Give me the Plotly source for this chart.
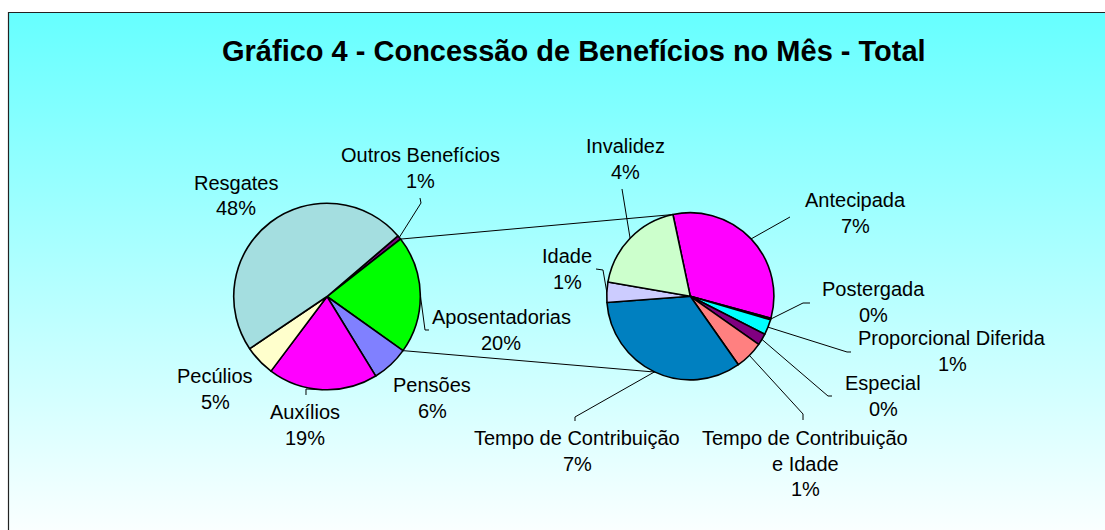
import base64
import math
import plotly.graph_objects as go

# ---------------- data ----------------
main_labels = ["Outros Benefícios", "Aposentadorias", "Pensões", "Auxílios", "Pecúlios", "Resgates"]
main_values = [0.7, 20.4, 6.4, 19.0, 5.3, 48.2]
main_colors = ["#800080", "#00FF00", "#8080FF", "#FF00FF", "#FFFFCC", "#A4DEE0"]

apos_labels = ["Antecipada", "Postergada", "Proporcional Diferida", "Especial",
               "Tempo de Contribuição e Idade", "Tempo de Contribuição", "Idade", "Invalidez"]
apos_values = [6.63, 0.06, 0.60, 0.46, 1.12, 6.83, 0.80, 3.85]
apos_colors = ["#FF00FF", "#FFFF00", "#00FFFF", "#800080", "#FF8080", "#0080C0", "#CCCCFF", "#CCFFCC"]

title_text = "Gráfico 4 - Concessão de Benefícios no Mês - Total"

# ---------------- layout geometry (pixels) ----------------
W, H = 1105, 530
C1, R1, ROT1 = (327.0, 296.5), 93.3, 49.5
C2, R2, ROT2 = (690.3, 296.3), 83.6, -12.0
BOTTOM_LINK_ANGLE = 205.0
FONT = "Liberation Sans, Arial, sans-serif"
LINE_H = 25.5
LABEL_SIZE = 20

def px(x, y):
    return x / W, 1 - y / H

def dom(c, r):
    return dict(x=[(c[0] - r) / W, (c[0] + r) / W],
                y=[1 - (c[1] + r) / H, 1 - (c[1] - r) / H])

def angles(values, rot):
    tot = sum(values)
    out, a = [], rot
    for v in values:
        b = a + 360 * v / tot
        out.append((a, b))
        a = b
    return out

def pt(c, r, ang):
    t = math.radians(ang)
    return c[0] + r * math.sin(t), c[1] - r * math.cos(t)

total_all = sum(main_values)
fig = go.Figure()
fig.add_trace(go.Pie(labels=main_labels, values=main_values, sort=False, direction="clockwise",
                     rotation=ROT1, textinfo="none", hoverinfo="label+percent", showlegend=False,
                     marker=dict(colors=main_colors, line=dict(color="black", width=1.6)),
                     domain=dom(C1, R1)))
fig.add_trace(go.Pie(labels=apos_labels, values=apos_values, sort=False, direction="clockwise",
                     rotation=ROT2, textinfo="none", hoverinfo="label", showlegend=False,
                     marker=dict(colors=apos_colors, line=dict(color="black", width=1.6)),
                     domain=dom(C2, R2)))

# label layout: (center x, first line y, leader tail points)
label_pos = {
    "Outros Benefícios": (420, 155, [(420, 198), (421, 203)]),
    "Aposentadorias": (501, 317, [(429, 330), (425, 330)]),
    "Pensões": (432, 385, []),
    "Auxílios": (305, 412, [(306, 395), (306, 389)]),
    "Pecúlios": (215, 376, []),
    "Resgates": (236, 183, []),
    "Antecipada": (855, 200, [(790, 217)]),
    "Postergada": (873, 289, [(810, 303), (803, 303)]),
    "Proporcional Diferida": (952, 338, [(851, 352), (847, 352)]),
    "Especial": (883, 383, [(832, 396), (828, 396)]),
    "Tempo de Contribuição e Idade": (805, 438, [(803, 420), (803, 414)]),
    "Tempo de Contribuição": (577, 438, [(575, 421), (575, 417)]),
    "Idade": (567, 256, [(596, 269), (603, 270)]),
    "Invalidez": (625, 146, [(622, 189)]),
}
display_lines = {"Tempo de Contribuição e Idade": ["Tempo de Contribuição", "e Idade"]}

annotations, shapes = [], []

def add_labels(labels, values, c, r, rot):
    for lab, v, (a0, a1) in zip(labels, values, angles(values, rot)):
        x, y, tail = label_pos[lab]
        lines = display_lines.get(lab, [lab]) + [f"{round(v / total_all * 100)}%"]
        for i, s in enumerate(lines):
            xp, yp = px(x, y + i * LINE_H)
            annotations.append(dict(x=xp, y=yp, xref="paper", yref="paper", text=s, showarrow=False,
                                    xanchor="center", yanchor="middle",
                                    font=dict(family=FONT, size=LABEL_SIZE, color="black")))
        if tail:
            anc = pt(c, r, (a0 + a1) / 2)
            pts = tail + [anc]
            path = "M " + " L ".join("%.5f,%.5f" % px(*p) for p in pts)
            shapes.append(dict(type="path", path=path, xref="paper", yref="paper",
                               line=dict(color="black", width=1)))

add_labels(main_labels, main_values, C1, R1, ROT1)
add_labels(apos_labels, apos_values, C2, R2, ROT2)

# connector lines between pies (edges of Aposentadorias slice)
a_start, a_end = angles(main_values, ROT1)[main_labels.index("Aposentadorias")]
for p_from, p_to in [(pt(C1, R1, a_start), pt(C2, R2, ROT2)),
                     (pt(C1, R1, a_end), pt(C2, R2, BOTTOM_LINK_ANGLE))]:
    x0, y0 = px(*p_from)
    x1, y1 = px(*p_to)
    shapes.append(dict(type="line", x0=x0, y0=y0, x1=x1, y1=y1, xref="paper", yref="paper",
                       line=dict(color="black", width=1)))

# frame
shapes.append(dict(type="rect", x0=8.5 / W, x1=1.05, y0=-0.05, y1=1 - 12.5 / H,
                   xref="paper", yref="paper", line=dict(color="#222222", width=1.2),
                   fillcolor="rgba(0,0,0,0)", layer="below"))

# title
tx, ty = px(574, 51)
annotations.append(dict(x=tx, y=ty, xref="paper", yref="paper", text="<b>" + title_text + "</b>",
                        showarrow=False, xanchor="center", yanchor="middle",
                        font=dict(family=FONT, size=29, color="black")))

# gradient background
svg = ('<svg xmlns="http://www.w3.org/2000/svg" width="100" height="100" viewBox="0 0 100 100" '
       'preserveAspectRatio="none"><defs><linearGradient id="g" x1="0" y1="0" x2="0" y2="1">'
       '<stop offset="0" stop-color="#66FFFF"/><stop offset="1" stop-color="#FFFFFF"/>'
       '</linearGradient></defs><rect width="100" height="100" fill="url(#g)"/></svg>')
src = "data:image/svg+xml;base64," + base64.b64encode(svg.encode()).decode()
gx, gy = px(8, 12)
images = [dict(source=src, xref="paper", yref="paper", x=gx, y=gy, sizex=1.1, sizey=(548 - 12) / H,
               xanchor="left", yanchor="top", sizing="stretch", layer="below")]

fig.update_layout(width=W, height=H, margin=dict(l=0, r=0, t=0, b=0, pad=0),
                  paper_bgcolor="white", plot_bgcolor="white",
                  annotations=annotations, shapes=shapes, images=images)

fig.write_html("out.html", config={"displayModeBar": False},
               post_script="document.body.style.margin='0';document.body.style.overflow='hidden';")
